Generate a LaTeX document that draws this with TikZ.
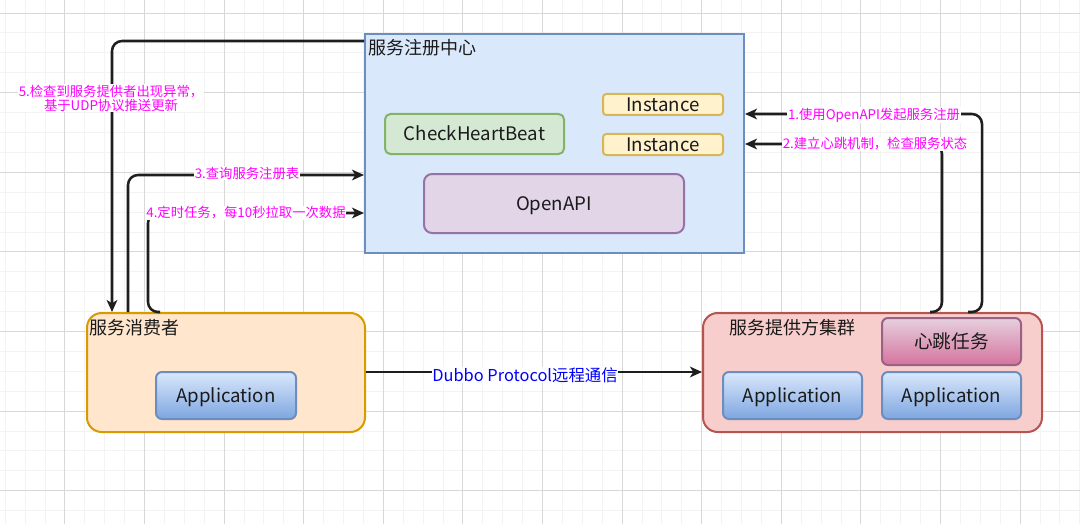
\documentclass[tikz,border=0pt]{standalone}
\usepackage{fontspec}
\setmainfont{Noto Sans CJK SC}
\usetikzlibrary{arrows.meta,calc}
\definecolor{regfill}{HTML}{DAE8FC}
\definecolor{regline}{HTML}{6C8EBF}
\definecolor{instfill}{HTML}{FFF2CC}
\definecolor{instline}{HTML}{D6B656}
\definecolor{chkfill}{HTML}{D5E8D4}
\definecolor{chkline}{HTML}{82B366}
\definecolor{apifill}{HTML}{E1D5E7}
\definecolor{apiline}{HTML}{9673A6}
\definecolor{consfill}{HTML}{FFE6CC}
\definecolor{consline}{HTML}{D79B00}
\definecolor{provfill}{HTML}{F8CECC}
\definecolor{provline}{HTML}{B85450}
\definecolor{hbtop}{HTML}{E6D0DE}
\definecolor{hbbot}{HTML}{D5739D}
\definecolor{hbline}{HTML}{996185}
\definecolor{apptop}{HTML}{DAE8FC}
\definecolor{appbot}{HTML}{7EA6E0}
\definecolor{txt}{HTML}{1A1A1A}
\definecolor{ln}{HTML}{1E1E1E}
\definecolor{mag}{HTML}{FF00FF}
\definecolor{blu}{HTML}{0000FF}
\definecolor{gridminor}{HTML}{F3F3F3}
\definecolor{gridmajor}{HTML}{D8D8D8}
\begin{document}
\begin{tikzpicture}[x=0.75pt,y=-0.75pt]
\tikzset{
  sbox/.style={draw, line width=1.5pt, inner sep=0pt, text=txt, font=\fontsize{14pt}{17pt}\selectfont, text height=10.2pt, text depth=0pt},
  wh/.style 2 args={minimum width={#1*0.75pt}, minimum height={#2*0.75pt}},
  appbox/.style={sbox, draw=regline, top color=apptop, bottom color=appbot, rounded corners=4.5pt},
  conn/.style={draw=ln, line width=1.9pt, rounded corners=7.5pt, -{Stealth[length=9pt,width=8pt,inset=2.5pt]}},
  lab/.style={text=mag, fill=white, inner sep=0.6pt, font=\fontsize{10pt}{10.5pt}\selectfont},
  boxtitle/.style={text=txt, inner sep=0pt, font=\fontsize{13.5pt}{16pt}\selectfont},
}
\useasboundingbox (0,0) rectangle (1080,524);
\fill[white] (0,0) rectangle (1080,524);
% grid
\foreach \i in {0,...,54} {\draw[gridminor, line width=0.75pt] ({5.2+19.9*\i},0) -- ({5.2+19.9*\i},524);}
\foreach \j in {0,...,25} {\draw[gridminor, line width=0.75pt] (0,{13.1+19.9*\j}) -- (1080,{13.1+19.9*\j});}
\foreach \i in {0,...,12} {\draw[gridmajor, line width=0.75pt] ({64.9+79.6*\i},0) -- ({64.9+79.6*\i},524);}
\foreach \j in {0,...,6} {\draw[gridmajor, line width=0.75pt] (0,{13.1+79.6*\j}) -- (1080,{13.1+79.6*\j});}

% registry
\node[sbox, draw=regline, fill=regfill, wh={379}{219}] (reg) at (554.5,143.5) {};
\node[boxtitle, anchor=west] (t1) at (368,48) {服务注册中心};
\node[sbox, draw=instline, fill=instfill, rounded corners=2.5pt, wh={120}{21}] (inst1) at (663,104.5) {Instance};
\node[sbox, draw=instline, fill=instfill, rounded corners=2.5pt, wh={120}{21}] (inst2) at (663,144.5) {Instance};
\node[sbox, draw=chkline, fill=chkfill, rounded corners=4pt, wh={179}{40}] (chk) at (474.5,134) {CheckHeartBeat};
\node[sbox, draw=apiline, fill=apifill, rounded corners=6pt, wh={260}{59}] (api) at (554,203.5) {OpenAPI};

% consumer
\node[sbox, draw=consline, fill=consfill, rounded corners=11pt, wh={278}{119}] (cons) at (226,372.5) {};
\node[boxtitle, anchor=west] (t2) at (89,328) {服务消费者};
\node[appbox, wh={140}{47}] (capp) at (226,395.5) {Application};

% provider
\node[sbox, draw=provline, fill=provfill, rounded corners=11pt, wh={339}{119}] (prov) at (872.5,372.5) {};
\node[boxtitle] (t3) at (792,328) {服务提供方集群};
\node[sbox, draw=hbline, top color=hbtop, bottom color=hbbot, rounded corners=4.5pt, wh={139}{47}] (hb) at (951.5,341.5) {心跳任务};
\node[appbox, wh={139}{47}] (papp1) at (792.5,395.5) {Application};
\node[appbox, wh={139}{47}] (papp2) at (951.5,395.5) {Application};

% connectors
\draw[conn] (prov.north -| 968,0) -| (982,114) -- (reg.east |- 0,114);
\draw[conn] (prov.north -| 930,0) -| (942,144) -- (reg.east |- 0,144);
\draw[conn] (cons.north -| 128,0) |- (reg.west |- 0,175);
\draw[conn] (cons.north -| 160,0) -| (148,213) -- (reg.west |- 0,213);
\draw[conn] (reg.west |- 0,41) -| (cons.north -| 112,0);
\draw[conn] (cons.east |- 0,372) -- (prov.west |- 0,372);

% labels
\node[lab] (l1) at (874,115) {1.使用OpenAPI发起服务注册};
\node[lab] (l2) at (875,144) {2.建立心跳机制，检查服务状态};
\node[lab] (l3) at (247,173) {3.查询服务注册表};
\node[lab] (l4) at (246,213) {4.定时任务，每10秒拉取一次数据};
\node[lab, align=center] (l5) at (111,98) {5.检查到服务提供者出现异常，\\基于UDP协议推送更新};
\node[lab, text=blu, font=\fontsize{12.3pt}{13pt}\selectfont] (l6) at (525,375) {Dubbo Protocol远程通信};
\end{tikzpicture}
\end{document}
